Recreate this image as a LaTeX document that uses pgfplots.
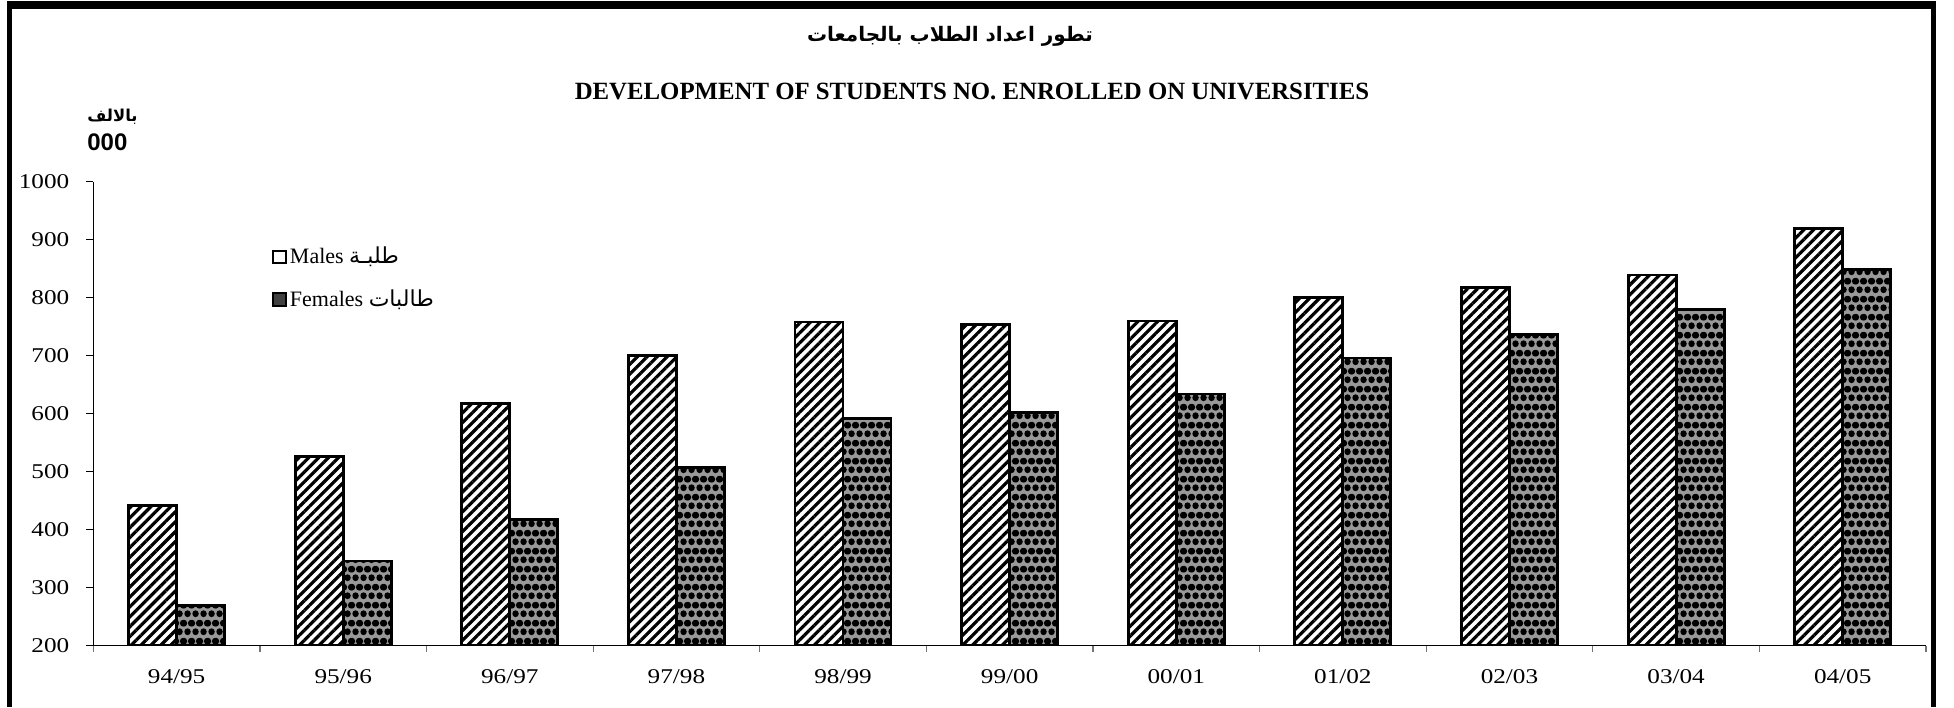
\documentclass[border=0pt]{standalone}
\usepackage{fontspec}
\setmainfont{Liberation Serif}
\newfontfamily\ticfont[FakeStretch=1.2]{Liberation Serif}
\newfontfamily\arabicfont[Script=Arabic]{DejaVu Sans}
\newfontfamily\sansfont{Liberation Sans}
\usepackage{pgfplots}
\usepackage{pgfplotstable}
\pgfplotsset{compat=1.18}
\usetikzlibrary{patterns,patterns.meta}
\TeXXeTstate=1

\pgfdeclarepatternformonly{balls}{\pgfqpoint{0pt}{0pt}}{\pgfqpoint{4pt}{9pt}}{\pgfqpoint{4pt}{9pt}}{%
  \pgfpathcircle{\pgfqpoint{2pt}{2.25pt}}{1.8pt}%
  \pgfpathcircle{\pgfqpoint{0pt}{6.75pt}}{1.8pt}%
  \pgfpathcircle{\pgfqpoint{4pt}{6.75pt}}{1.8pt}%
  \pgfusepath{fill}}

\pgfplotstableread{
x male female
0 442 270
1 526 346
2 617 417
3 700 507
4 758 592
5 754 602
6 760 634
7 800 696
8 818 736
9 839 779
10 919 848
}\datatable

\begin{document}
\begin{tikzpicture}
\useasboundingbox (0,0) rectangle (977pt,353.5pt);
% frame
\fill[black] (3.5pt,0) rectangle (6pt,353pt);
\fill[black] (965.3pt,0) rectangle (968pt,353pt);
\fill[black] (3.5pt,349pt) rectangle (968pt,353pt);
% titles
\node[font=\fontsize{10}{12}\selectfont] at (475pt,335.3pt) {\arabicfont\bfseries\beginR تطور اعداد الطلاب بالجامعات\endR};
\node[font=\fontsize{12.4}{14}\selectfont\bfseries] at (486pt,308pt) {DEVELOPMENT OF STUDENTS NO. ENROLLED ON UNIVERSITIES};
\node[anchor=west, inner sep=0pt, font=\fontsize{8.2}{10}\selectfont] at (43.5pt,295pt) {\arabicfont\bfseries\beginR بالالف\endR};
\node[anchor=west, inner sep=0pt, font=\fontsize{12}{14}\selectfont] at (43.5pt,282.25pt) {\sansfont\bfseries 000};
\begin{axis}[
  at={(46.65pt,30.65pt)}, anchor=south west,
  scale only axis, width=916.35pt, height=232pt,
  ybar=0pt, bar width=24pt,
  xmin=-0.5, xmax=10.5, ymin=200, ymax=1000,
  axis x line=bottom, axis y line=left,
  axis line style={-, black, line width=0.6pt},
  xtick={0,...,10},
  xticklabels={94/95,95/96,96/97,97/98,98/99,99/00,00/01,01/02,02/03,03/04,04/05},
  minor xtick={-0.5,0.5,...,10.5},
  major x tick style={draw=none},
  minor x tick style={black!55, line width=0.6pt},
  minor tick length=3pt,
  ytick={200,300,...,1000},
  major tick length=3.5pt,
  y tick style={black, line width=0.6pt},
  tick align=outside,
  tick label style={font=\fontsize{10.5}{12}\selectfont\ticfont},
  xticklabel style={yshift=-5pt},
  yticklabel style={xshift=-5pt},
  /pgf/number format/assume math mode=true,
  /pgf/number format/1000 sep={},
  legend style={draw=none, fill=none, at={(0.094,0.875)}, anchor=north west,
    font=\fontsize{11}{13}\selectfont, row sep=8.5pt, nodes={inner sep=1.5pt}},
  legend cell align=left,
]
\addplot[draw=black, line width=1.4pt, fill=white,
  pattern={Lines[angle=45,distance=3.5pt,line width=1.6pt]},
  legend image code/.code={\draw[black, line width=1pt, fill=white] (0pt,-3.2pt) rectangle (6.5pt,3.2pt);}]
  table[x=x, y=male] {\datatable};
\addlegendentry{Males {\arabicfont\beginR طلبـة\endR}}
\addplot[draw=black, line width=1.4pt, preaction={fill=black!40}, pattern=balls,
  legend image code/.code={\draw[black, line width=1pt, fill=black!75] (0pt,-3.2pt) rectangle (6.5pt,3.2pt);}]
  table[x=x, y=female] {\datatable};
\addlegendentry{Females {\arabicfont\beginR طالبات\endR}}
\end{axis}
\end{tikzpicture}
\end{document}
